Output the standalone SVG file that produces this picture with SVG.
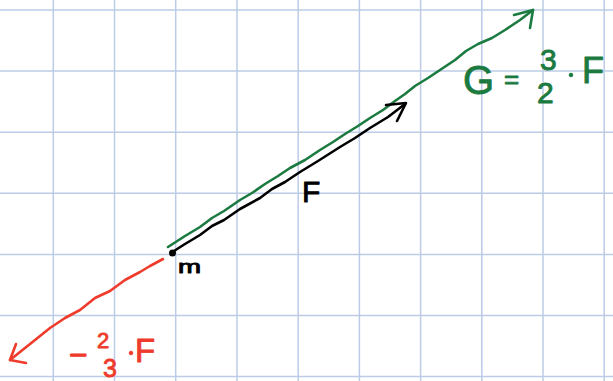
<svg xmlns="http://www.w3.org/2000/svg" width="613" height="381" viewBox="0 0 613 381">
<style>
.grid{stroke:#bccbe6;stroke-width:1.5;fill:none}
.v{fill:none;stroke-width:2.6;stroke-linecap:round;stroke-linejoin:round}
.g{stroke:#1b7a40}
.k{stroke:#000}
.r{stroke:#ee3b2b}
.t{font-family:"Liberation Sans",Arial,sans-serif;stroke-width:0.9;stroke-linejoin:round}
</style>
<rect width="613" height="381" fill="#fff"/>
<g id="grid" class="grid">
<path d="M53.3 0V381M114.5 0V381M175.7 0V381M237 0V381M298.2 0V381M359.4 0V381M420.6 0V381M481.8 0V381M543 0V381M604.2 0V381"/>
<path d="M0 10H613M0 71.1H613M0 132.2H613M0 193.3H613M0 254.4H613M0 315.5H613M0 376.6H613"/>
</g>
<g id="connectors">
<g id="vec-G">
<path class="v g" d="M168 247 L185 236 L200 227 L212 218 L224 211 L240 200 L252 193 L265 184 L278 176 L290 168 L305 160 L320 150 L333 142 L345 134 L358 126 L370 118 L383 110 L395 101 L405 94 L415 86 L428 78 L440 70 L455 60 L466 51 L478 44 L492 38 L505 30 L520 20 L533 10"/>
<path class="v g" d="M514 15 L533 10 L530 28"/>
</g>
<g id="vec-F">
<path class="v k" d="M174 251 L185 244 L200 235 L212 226 L224 220 L240 209 L260 198 L272 189 L285 182 L300 172 L318 161 L340 147 L355 138 L370 128 L388 117 L405 104"/>
<path class="v k" d="M386 105 L406 103 L397 121"/>
</g>
<g id="vec-neg">
<path class="v r" d="M163 259 L150 266 L140 272 L125 280 L110 291 L95 298 L80 310 L65 318 L50 328 L35 340 L10 360"/>
<path class="v r" d="M16 344 L10 360 L26 363"/>
</g>
</g>
<g id="mass">
<circle cx="172.5" cy="253" r="3.5" fill="#000"/>
<text class="t" x="178" y="273" font-size="19" fill="#000" stroke="#000" textLength="23" lengthAdjust="spacingAndGlyphs">m</text>
</g>
<g id="label-F">
<text class="t" x="302" y="202" font-size="30" fill="#000" stroke="#000">F</text>
</g>
<g id="label-G" fill="#1b7a40" stroke="#1b7a40">
<text class="t" x="463" y="94" font-size="40">G</text>
<text class="t" x="504" y="88" font-size="26">=</text>
<text class="t" x="540" y="70" font-size="30">3</text>
<text class="t" x="537" y="103" font-size="30">2</text>
<circle cx="571" cy="75" r="1.8"/>
<text class="t" x="582" y="83" font-size="36">F</text>
</g>
<g id="label-neg" fill="#ee3b2b" stroke="#ee3b2b">
<text class="t" x="69" y="366" font-size="32">−</text>
<text class="t" x="97" y="348" font-size="22">2</text>
<text class="t" x="103" y="377" font-size="25">3</text>
<circle cx="131" cy="353" r="1.8"/>
<text class="t" x="135" y="362" font-size="33">F</text>
</g>
</svg>
